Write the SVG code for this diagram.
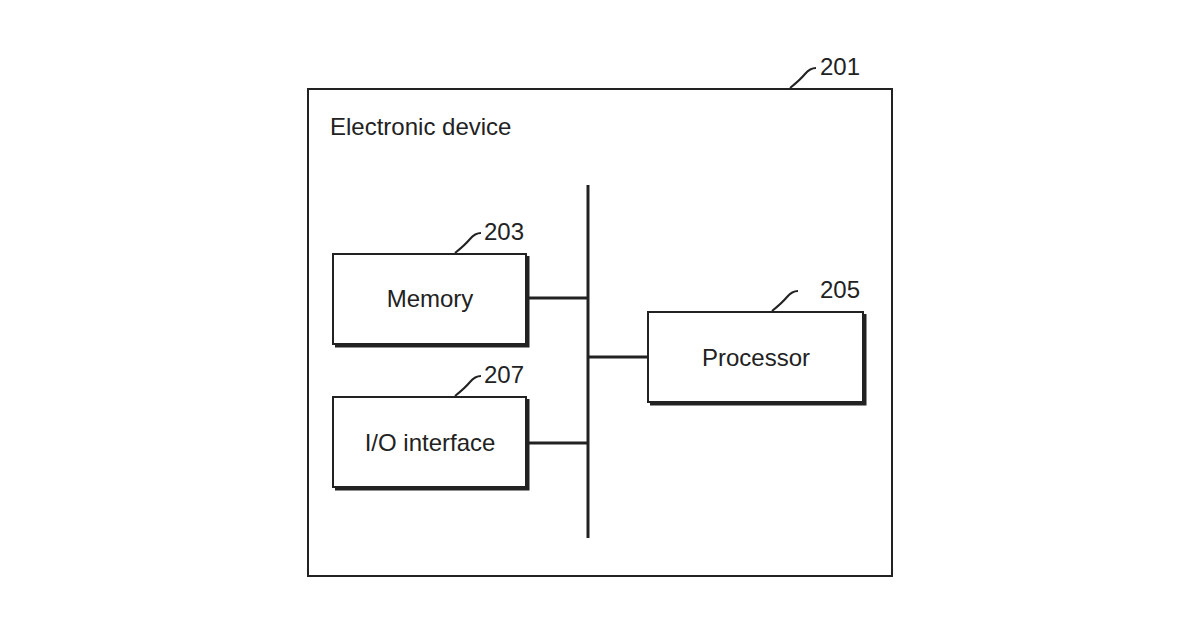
<svg xmlns="http://www.w3.org/2000/svg" width="1200" height="630" viewBox="0 0 1200 630">
<style>
.b{fill:#fff;stroke:#222;stroke-width:2}
.s{fill:none;stroke:#222;stroke-width:3}
.c{fill:none;stroke:#222;stroke-width:2}
.t{font-family:"Liberation Sans",Arial,sans-serif;font-size:24px;fill:#222}
</style>
<rect width="1200" height="630" fill="#fff"/>
<g id="n201"><rect class="b" x="308" y="89" width="584" height="487"/>
<text class="t" x="330" y="135">Electronic device</text>
<path class="c" d="M790,88 Q800,80 805,74 T816,68"/><text class="t" x="820" y="75">201</text></g>
<g id="n203"><path class="s" d="M335,346 H528 V256"/><rect class="b" x="333" y="254" width="193" height="90"/>
<text class="t" x="430" y="307" text-anchor="middle">Memory</text>
<path class="c" d="M455,253 Q465,245 470,239 T481,233"/><text class="t" x="484" y="240">203</text></g>
<g id="n205"><path class="s" d="M650,404 H865 V314"/><rect class="b" x="648" y="312" width="215" height="90"/>
<text class="t" x="756" y="366" text-anchor="middle">Processor</text>
<path class="c" d="M772,311 Q782,303 787,297 T798,291"/><text class="t" x="820" y="298">205</text></g>
<g id="n207"><path class="s" d="M335,489 H528 V399"/><rect class="b" x="333" y="397" width="193" height="90"/>
<text class="t" x="430" y="451" text-anchor="middle">I/O interface</text>
<path class="c" d="M455,396 Q465,388 470,382 T481,376"/><text class="t" x="484" y="383">207</text></g>
<g id="connectors" stroke="#222" stroke-width="3" fill="none">
<line x1="588" y1="185" x2="588" y2="538"/>
<line x1="528" y1="298" x2="588" y2="298"/>
<line x1="528" y1="443" x2="588" y2="443"/>
<line x1="588" y1="357" x2="648" y2="357"/>
</g>
</svg>
